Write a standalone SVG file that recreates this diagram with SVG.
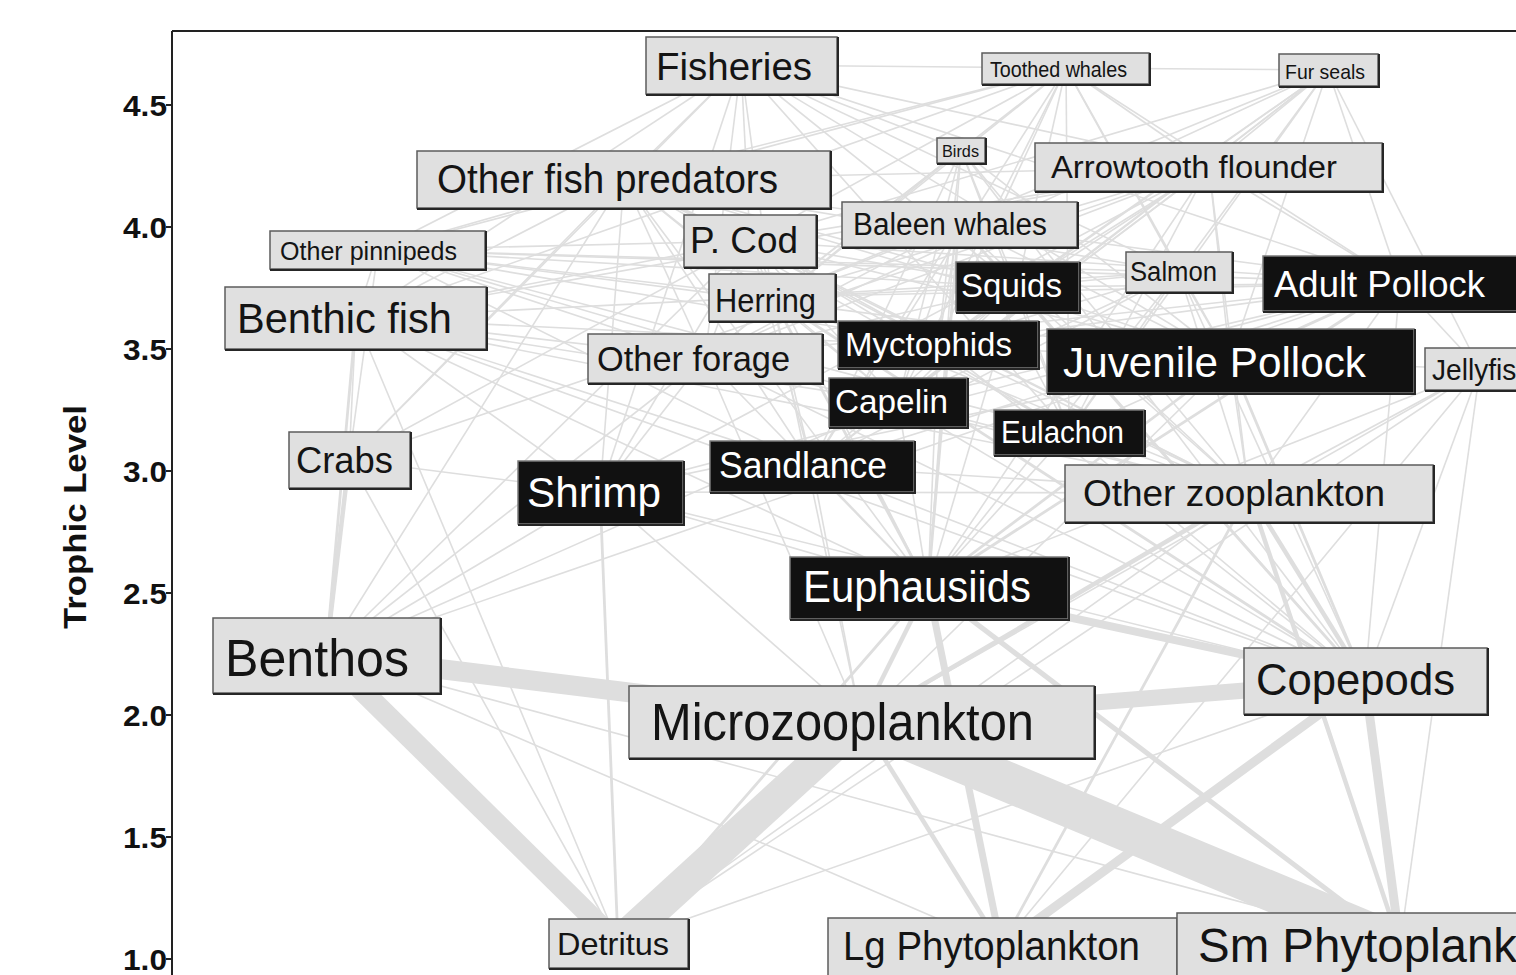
<svg xmlns="http://www.w3.org/2000/svg" width="1516" height="975" viewBox="0 0 1516 975">
<style>
.bg{fill:#ffffff}
#connectors line{stroke:#dedede;stroke-linecap:butt}
.t{stroke-width:1.6}
.m{stroke-width:2.8}
.k{stroke-width:4.5}
.lb rect{fill:#e0e0e0;stroke:#5c5c5c;stroke-width:1.5}
.db rect{fill:#111111;stroke:#7a7a7a;stroke-width:1.5}
.bev{fill:none;stroke:#262626;stroke-width:2}
.lb text{fill:#141414}
.db text{fill:#ffffff}
text{font-family:"Liberation Sans",Arial,Helvetica,sans-serif}
.ax{fill:none;stroke:#222;stroke-width:2}
.tick{font-weight:bold;font-size:30px;fill:#111;text-anchor:end}
</style>
<rect class="bg" x="0" y="0" width="1516" height="975"/>
<g id="connectors">
<g class="t">
<line x1="741" y1="65" x2="624" y2="180"/><line x1="741" y1="65" x2="750" y2="241"/><line x1="741" y1="65" x2="1209" y2="167"/><line x1="741" y1="65" x2="1400" y2="283"/><line x1="741" y1="65" x2="772" y2="297"/><line x1="741" y1="65" x2="1179" y2="272"/><line x1="741" y1="65" x2="356" y2="318"/><line x1="741" y1="65" x2="349" y2="460"/><line x1="741" y1="65" x2="600" y2="492"/><line x1="741" y1="65" x2="705" y2="358"/><line x1="741" y1="65" x2="1017" y2="287"/><line x1="741" y1="65" x2="1066" y2="68"/><line x1="741" y1="65" x2="378" y2="250"/><line x1="741" y1="65" x2="1230" y2="360"/><line x1="741" y1="65" x2="1069" y2="432"/>
<line x1="1066" y1="68" x2="1328" y2="70"/><line x1="1066" y1="68" x2="1017" y2="287"/><line x1="1066" y1="68" x2="1179" y2="272"/><line x1="1066" y1="68" x2="1400" y2="283"/><line x1="1066" y1="68" x2="1230" y2="360"/><line x1="1066" y1="68" x2="624" y2="180"/><line x1="1066" y1="68" x2="1209" y2="167"/><line x1="1066" y1="68" x2="750" y2="241"/><line x1="1066" y1="68" x2="772" y2="297"/><line x1="1066" y1="68" x2="938" y2="344"/><line x1="1066" y1="68" x2="378" y2="250"/><line x1="1066" y1="68" x2="356" y2="318"/><line x1="1066" y1="68" x2="1069" y2="432"/><line x1="1066" y1="68" x2="898" y2="402"/><line x1="1066" y1="68" x2="705" y2="358"/><line x1="1066" y1="68" x2="812" y2="466"/>
<line x1="1328" y1="70" x2="1400" y2="283"/><line x1="1328" y1="70" x2="1230" y2="360"/><line x1="1328" y1="70" x2="772" y2="297"/><line x1="1328" y1="70" x2="1017" y2="287"/><line x1="1328" y1="70" x2="1179" y2="272"/><line x1="1328" y1="70" x2="898" y2="402"/><line x1="1328" y1="70" x2="1069" y2="432"/><line x1="1328" y1="70" x2="938" y2="344"/><line x1="1328" y1="70" x2="812" y2="466"/><line x1="1328" y1="70" x2="705" y2="358"/><line x1="1328" y1="70" x2="1209" y2="167"/><line x1="1328" y1="70" x2="750" y2="241"/><line x1="1328" y1="70" x2="1480" y2="369"/>
<line x1="961" y1="150" x2="938" y2="344"/><line x1="961" y1="150" x2="898" y2="402"/><line x1="961" y1="150" x2="812" y2="466"/><line x1="961" y1="150" x2="1069" y2="432"/><line x1="961" y1="150" x2="1230" y2="360"/><line x1="961" y1="150" x2="1017" y2="287"/><line x1="961" y1="150" x2="928" y2="587"/><line x1="961" y1="150" x2="705" y2="358"/><line x1="961" y1="150" x2="772" y2="297"/><line x1="961" y1="150" x2="1249" y2="493"/><line x1="961" y1="150" x2="1365" y2="681"/><line x1="961" y1="150" x2="741" y2="65"/>
<line x1="959" y1="224" x2="898" y2="402"/><line x1="959" y1="224" x2="772" y2="297"/><line x1="959" y1="224" x2="812" y2="466"/><line x1="959" y1="224" x2="1230" y2="360"/><line x1="959" y1="224" x2="938" y2="344"/><line x1="959" y1="224" x2="705" y2="358"/><line x1="959" y1="224" x2="1249" y2="493"/><line x1="959" y1="224" x2="1069" y2="432"/>
<line x1="624" y1="180" x2="772" y2="297"/><line x1="624" y1="180" x2="705" y2="358"/><line x1="624" y1="180" x2="812" y2="466"/><line x1="624" y1="180" x2="898" y2="402"/><line x1="624" y1="180" x2="1017" y2="287"/><line x1="624" y1="180" x2="1230" y2="360"/><line x1="624" y1="180" x2="1400" y2="283"/><line x1="624" y1="180" x2="349" y2="460"/><line x1="624" y1="180" x2="600" y2="492"/><line x1="624" y1="180" x2="356" y2="318"/><line x1="624" y1="180" x2="928" y2="587"/><line x1="624" y1="180" x2="326" y2="655"/><line x1="624" y1="180" x2="938" y2="344"/><line x1="624" y1="180" x2="750" y2="241"/><line x1="624" y1="180" x2="1069" y2="432"/><line x1="624" y1="180" x2="1209" y2="167"/><line x1="624" y1="180" x2="1179" y2="272"/><line x1="624" y1="180" x2="1249" y2="493"/>
<line x1="1209" y1="167" x2="1230" y2="360"/><line x1="1209" y1="167" x2="1400" y2="283"/><line x1="1209" y1="167" x2="772" y2="297"/><line x1="1209" y1="167" x2="898" y2="402"/><line x1="1209" y1="167" x2="1069" y2="432"/><line x1="1209" y1="167" x2="1017" y2="287"/><line x1="1209" y1="167" x2="600" y2="492"/><line x1="1209" y1="167" x2="928" y2="587"/><line x1="1209" y1="167" x2="938" y2="344"/><line x1="1209" y1="167" x2="705" y2="358"/><line x1="1209" y1="167" x2="812" y2="466"/><line x1="1209" y1="167" x2="356" y2="318"/><line x1="1209" y1="167" x2="750" y2="241"/><line x1="1209" y1="167" x2="1249" y2="493"/><line x1="1209" y1="167" x2="349" y2="460"/>
<line x1="750" y1="241" x2="349" y2="460"/><line x1="750" y1="241" x2="600" y2="492"/><line x1="750" y1="241" x2="326" y2="655"/><line x1="750" y1="241" x2="1230" y2="360"/><line x1="750" y1="241" x2="1400" y2="283"/><line x1="750" y1="241" x2="772" y2="297"/><line x1="750" y1="241" x2="898" y2="402"/><line x1="750" y1="241" x2="812" y2="466"/><line x1="750" y1="241" x2="928" y2="587"/><line x1="750" y1="241" x2="356" y2="318"/><line x1="750" y1="241" x2="705" y2="358"/><line x1="750" y1="241" x2="1069" y2="432"/><line x1="750" y1="241" x2="1017" y2="287"/><line x1="750" y1="241" x2="1249" y2="493"/><line x1="750" y1="241" x2="938" y2="344"/>
<line x1="378" y1="250" x2="356" y2="318"/><line x1="378" y1="250" x2="750" y2="241"/><line x1="378" y1="250" x2="1017" y2="287"/><line x1="378" y1="250" x2="772" y2="297"/><line x1="378" y1="250" x2="705" y2="358"/><line x1="378" y1="250" x2="1230" y2="360"/><line x1="378" y1="250" x2="1400" y2="283"/><line x1="378" y1="250" x2="349" y2="460"/><line x1="378" y1="250" x2="1179" y2="272"/><line x1="378" y1="250" x2="624" y2="180"/><line x1="378" y1="250" x2="812" y2="466"/><line x1="378" y1="250" x2="898" y2="402"/><line x1="378" y1="250" x2="1069" y2="432"/><line x1="378" y1="250" x2="938" y2="344"/>
<line x1="356" y1="318" x2="349" y2="460"/><line x1="356" y1="318" x2="600" y2="492"/><line x1="356" y1="318" x2="1249" y2="493"/><line x1="356" y1="318" x2="928" y2="587"/><line x1="356" y1="318" x2="705" y2="358"/><line x1="356" y1="318" x2="812" y2="466"/><line x1="356" y1="318" x2="1365" y2="681"/><line x1="356" y1="318" x2="898" y2="402"/><line x1="356" y1="318" x2="1230" y2="360"/><line x1="356" y1="318" x2="772" y2="297"/><line x1="356" y1="318" x2="618" y2="943"/>
<line x1="772" y1="297" x2="1249" y2="493"/><line x1="772" y1="297" x2="812" y2="466"/><line x1="772" y1="297" x2="861" y2="721"/><line x1="772" y1="297" x2="898" y2="402"/>
<line x1="1017" y1="287" x2="938" y2="344"/><line x1="1017" y1="287" x2="928" y2="587"/><line x1="1017" y1="287" x2="1365" y2="681"/><line x1="1017" y1="287" x2="1249" y2="493"/><line x1="1017" y1="287" x2="1230" y2="360"/><line x1="1017" y1="287" x2="898" y2="402"/><line x1="1017" y1="287" x2="812" y2="466"/><line x1="1017" y1="287" x2="1069" y2="432"/><line x1="1017" y1="287" x2="772" y2="297"/><line x1="1017" y1="287" x2="705" y2="358"/>
<line x1="1179" y1="272" x2="1017" y2="287"/><line x1="1179" y1="272" x2="928" y2="587"/><line x1="1179" y1="272" x2="898" y2="402"/><line x1="1179" y1="272" x2="1249" y2="493"/><line x1="1179" y1="272" x2="1365" y2="681"/><line x1="1179" y1="272" x2="938" y2="344"/><line x1="1179" y1="272" x2="812" y2="466"/><line x1="1179" y1="272" x2="772" y2="297"/><line x1="1179" y1="272" x2="1069" y2="432"/><line x1="1179" y1="272" x2="1230" y2="360"/>
<line x1="1400" y1="283" x2="1365" y2="681"/><line x1="1400" y1="283" x2="1249" y2="493"/><line x1="1400" y1="283" x2="898" y2="402"/><line x1="1400" y1="283" x2="600" y2="492"/><line x1="1400" y1="283" x2="938" y2="344"/><line x1="1400" y1="283" x2="1017" y2="287"/><line x1="1400" y1="283" x2="812" y2="466"/><line x1="1400" y1="283" x2="1069" y2="432"/><line x1="1400" y1="283" x2="772" y2="297"/><line x1="1400" y1="283" x2="705" y2="358"/><line x1="1400" y1="283" x2="1480" y2="369"/><line x1="1400" y1="283" x2="326" y2="655"/>
<line x1="705" y1="358" x2="928" y2="587"/><line x1="705" y1="358" x2="1365" y2="681"/><line x1="705" y1="358" x2="1249" y2="493"/><line x1="705" y1="358" x2="861" y2="721"/><line x1="705" y1="358" x2="600" y2="492"/><line x1="705" y1="358" x2="326" y2="655"/>
<line x1="938" y1="344" x2="928" y2="587"/><line x1="938" y1="344" x2="1365" y2="681"/><line x1="938" y1="344" x2="1249" y2="493"/>
<line x1="1230" y1="360" x2="1249" y2="493"/><line x1="1230" y1="360" x2="861" y2="721"/><line x1="1230" y1="360" x2="600" y2="492"/>
<line x1="1480" y1="369" x2="1365" y2="681"/><line x1="1480" y1="369" x2="1249" y2="493"/><line x1="1480" y1="369" x2="861" y2="721"/><line x1="1480" y1="369" x2="928" y2="587"/><line x1="1480" y1="369" x2="1230" y2="360"/><line x1="1480" y1="369" x2="1400" y2="945"/><line x1="1480" y1="369" x2="1001" y2="946"/><line x1="1480" y1="369" x2="618" y2="943"/>
<line x1="898" y1="402" x2="928" y2="587"/><line x1="898" y1="402" x2="1365" y2="681"/><line x1="898" y1="402" x2="1249" y2="493"/><line x1="898" y1="402" x2="326" y2="655"/>
<line x1="1069" y1="432" x2="928" y2="587"/><line x1="1069" y1="432" x2="1365" y2="681"/><line x1="1069" y1="432" x2="1249" y2="493"/>
<line x1="349" y1="460" x2="618" y2="943"/><line x1="349" y1="460" x2="600" y2="492"/>
<line x1="600" y1="492" x2="326" y2="655"/><line x1="600" y1="492" x2="861" y2="721"/><line x1="600" y1="492" x2="1365" y2="681"/><line x1="600" y1="492" x2="1249" y2="493"/><line x1="600" y1="492" x2="928" y2="587"/>
<line x1="812" y1="466" x2="928" y2="587"/><line x1="812" y1="466" x2="1365" y2="681"/><line x1="812" y1="466" x2="1249" y2="493"/><line x1="812" y1="466" x2="861" y2="721"/>
<line x1="1249" y1="493" x2="618" y2="943"/><line x1="1365" y1="681" x2="618" y2="943"/>
<line x1="326" y1="655" x2="1001" y2="946"/><line x1="326" y1="655" x2="1400" y2="945"/>
</g>
<g class="m">
<line x1="959" y1="224" x2="928" y2="587"/><line x1="959" y1="224" x2="1365" y2="681"/><line x1="772" y1="297" x2="928" y2="587"/><line x1="772" y1="297" x2="1365" y2="681"/><line x1="1400" y1="283" x2="1230" y2="360"/><line x1="1400" y1="283" x2="928" y2="587"/><line x1="1230" y1="360" x2="928" y2="587"/><line x1="1230" y1="360" x2="1365" y2="681"/><line x1="356" y1="318" x2="326" y2="655"/><line x1="600" y1="492" x2="618" y2="943"/><line x1="1249" y1="493" x2="1001" y2="946"/><line x1="928" y1="587" x2="618" y2="943"/>
</g>
<g class="k">
<line x1="349" y1="460" x2="326" y2="655"/><line x1="1249" y1="493" x2="1365" y2="681"/><line x1="1249" y1="493" x2="861" y2="721"/><line x1="1249" y1="493" x2="1400" y2="945"/><line x1="928" y1="587" x2="861" y2="721"/><line x1="861" y1="721" x2="1001" y2="946"/>
</g>
<line x1="928" y1="587" x2="1400" y2="945" stroke-width="5"/>
<line x1="928" y1="587" x2="1001" y2="946" stroke-width="7"/>
<line x1="928" y1="587" x2="1365" y2="681" stroke-width="8"/>
<line x1="1365" y1="681" x2="1400" y2="945" stroke-width="9"/>
<line x1="1365" y1="681" x2="1001" y2="946" stroke-width="9"/>
<line x1="1365" y1="681" x2="861" y2="721" stroke-width="16"/>
<line x1="326" y1="655" x2="861" y2="721" stroke-width="20"/>
<line x1="326" y1="655" x2="618" y2="943" stroke-width="21"/>
<line x1="861" y1="721" x2="618" y2="943" stroke-width="32"/>
<line x1="861" y1="721" x2="1400" y2="945" stroke-width="40"/>
</g>
<g id="axis">
<path class="ax" d="M172,31 H1516 M172,31 V975 M166,105 H172 M166,227 H172 M166,349 H172 M166,471 H172 M166,593 H172 M166,715 H172 M166,837 H172 M166,959 H172"/>
<text class="tick" x="167" y="116" textLength="44" lengthAdjust="spacingAndGlyphs">4.5</text>
<text class="tick" x="167" y="238" textLength="44" lengthAdjust="spacingAndGlyphs">4.0</text>
<text class="tick" x="167" y="360" textLength="44" lengthAdjust="spacingAndGlyphs">3.5</text>
<text class="tick" x="167" y="482" textLength="44" lengthAdjust="spacingAndGlyphs">3.0</text>
<text class="tick" x="167" y="604" textLength="44" lengthAdjust="spacingAndGlyphs">2.5</text>
<text class="tick" x="167" y="726" textLength="44" lengthAdjust="spacingAndGlyphs">2.0</text>
<text class="tick" x="167" y="848" textLength="44" lengthAdjust="spacingAndGlyphs">1.5</text>
<text class="tick" x="167" y="970" textLength="44" lengthAdjust="spacingAndGlyphs">1.0</text>
<text x="86" y="517" transform="rotate(-90 86 517)" text-anchor="middle" font-weight="bold" font-size="32" fill="#111" textLength="224" lengthAdjust="spacingAndGlyphs">Trophic Level</text>
</g>
<g id="n-fisheries" class="lb"><rect x="646" y="37" width="191" height="57"/><path class="bev" d="M646,95 H838 V37"/><text x="656" y="80" font-size="39" textLength="156" lengthAdjust="spacingAndGlyphs">Fisheries</text></g>
<g id="n-toothed-whales" class="lb"><rect x="982" y="53" width="167" height="31"/><path class="bev" d="M982,85 H1150 V53"/><text x="990" y="77" font-size="22" textLength="137" lengthAdjust="spacingAndGlyphs">Toothed whales</text></g>
<g id="n-fur-seals" class="lb"><rect x="1279" y="54" width="99" height="32"/><path class="bev" d="M1279,87 H1379 V54"/><text x="1285" y="79" font-size="21" textLength="80" lengthAdjust="spacingAndGlyphs">Fur seals</text></g>
<g id="n-birds" class="lb"><rect x="937" y="138" width="48" height="25"/><path class="bev" d="M937,164 H986 V138"/><text x="942" y="157" font-size="17" textLength="37" lengthAdjust="spacingAndGlyphs">Birds</text></g>
<g id="n-other-fish-predators" class="lb"><rect x="417" y="151" width="413" height="57"/><path class="bev" d="M417,209 H831 V151"/><text x="437" y="193" font-size="41" textLength="341" lengthAdjust="spacingAndGlyphs">Other fish predators</text></g>
<g id="n-arrowtooth-flounder" class="lb"><rect x="1035" y="143" width="347" height="48"/><path class="bev" d="M1035,192 H1383 V143"/><text x="1051" y="178" font-size="31" textLength="286" lengthAdjust="spacingAndGlyphs">Arrowtooth flounder</text></g>
<g id="n-baleen-whales" class="lb"><rect x="842" y="202" width="235" height="45"/><path class="bev" d="M842,248 H1078 V202"/><text x="853" y="235" font-size="31" textLength="194" lengthAdjust="spacingAndGlyphs">Baleen whales</text></g>
<g id="n-p-cod" class="lb"><rect x="684" y="215" width="132" height="52"/><path class="bev" d="M684,268 H817 V215"/><text x="690" y="253" font-size="36" textLength="108" lengthAdjust="spacingAndGlyphs">P. Cod</text></g>
<g id="n-other-pinnipeds" class="lb"><rect x="270" y="231" width="215" height="38"/><path class="bev" d="M270,270 H486 V231"/><text x="280" y="260" font-size="26" textLength="177" lengthAdjust="spacingAndGlyphs">Other pinnipeds</text></g>
<g id="n-benthic-fish" class="lb"><rect x="225" y="287" width="261" height="62"/><path class="bev" d="M225,350 H487 V287"/><text x="237" y="333" font-size="43" textLength="215" lengthAdjust="spacingAndGlyphs">Benthic fish</text></g>
<g id="n-herring" class="lb"><rect x="709" y="274" width="126" height="47"/><path class="bev" d="M709,322 H836 V274"/><text x="715" y="312" font-size="34" textLength="101" lengthAdjust="spacingAndGlyphs">Herring</text></g>
<g id="n-squids" class="db"><rect x="956" y="262" width="123" height="50"/><path class="bev" d="M956,313 H1080 V262"/><text x="961" y="297" font-size="33" textLength="101" lengthAdjust="spacingAndGlyphs">Squids</text></g>
<g id="n-salmon" class="lb"><rect x="1126" y="252" width="106" height="40"/><path class="bev" d="M1126,293 H1233 V252"/><text x="1130" y="281" font-size="27" textLength="87" lengthAdjust="spacingAndGlyphs">Salmon</text></g>
<g id="n-adult-pollock" class="db"><rect x="1263" y="256" width="280" height="55"/><path class="bev" d="M1263,312 H1544"/><text x="1274" y="297" font-size="36" textLength="211" lengthAdjust="spacingAndGlyphs">Adult Pollock</text></g>
<g id="n-other-forage" class="lb"><rect x="588" y="334" width="234" height="49"/><path class="bev" d="M588,384 H823 V334"/><text x="597" y="371" font-size="35" textLength="193" lengthAdjust="spacingAndGlyphs">Other forage</text></g>
<g id="n-myctophids" class="db"><rect x="838" y="321" width="200" height="47"/><path class="bev" d="M838,369 H1039 V321"/><text x="845" y="356" font-size="33" textLength="167" lengthAdjust="spacingAndGlyphs">Myctophids</text></g>
<g id="n-juvenile-pollock" class="db"><rect x="1047" y="329" width="367" height="64"/><path class="bev" d="M1047,394 H1415 V329"/><text x="1063" y="377" font-size="43" textLength="303" lengthAdjust="spacingAndGlyphs">Juvenile Pollock</text></g>
<g id="n-jellyfish" class="lb"><rect x="1425" y="348" width="110" height="42"/><path class="bev" d="M1425,391 H1536"/><text x="1432" y="380" font-size="29" textLength="100" lengthAdjust="spacingAndGlyphs">Jellyfish</text></g>
<g id="n-capelin" class="db"><rect x="829" y="378" width="138" height="49"/><path class="bev" d="M829,428 H968 V378"/><text x="835" y="413" font-size="33" textLength="113" lengthAdjust="spacingAndGlyphs">Capelin</text></g>
<g id="n-eulachon" class="db"><rect x="994" y="410" width="150" height="45"/><path class="bev" d="M994,456 H1145 V410"/><text x="1001" y="443" font-size="31" textLength="123" lengthAdjust="spacingAndGlyphs">Eulachon</text></g>
<g id="n-crabs" class="lb"><rect x="289" y="432" width="121" height="56"/><path class="bev" d="M289,489 H411 V432"/><text x="296" y="473" font-size="36" textLength="97" lengthAdjust="spacingAndGlyphs">Crabs</text></g>
<g id="n-shrimp" class="db"><rect x="518" y="461" width="165" height="63"/><path class="bev" d="M518,525 H684 V461"/><text x="527" y="507" font-size="42" textLength="134" lengthAdjust="spacingAndGlyphs">Shrimp</text></g>
<g id="n-sandlance" class="db"><rect x="710" y="441" width="204" height="51"/><path class="bev" d="M710,493 H915 V441"/><text x="719" y="478" font-size="36" textLength="168" lengthAdjust="spacingAndGlyphs">Sandlance</text></g>
<g id="n-other-zooplankton" class="lb"><rect x="1065" y="465" width="368" height="57"/><path class="bev" d="M1065,523 H1434 V465"/><text x="1083" y="506" font-size="36" textLength="302" lengthAdjust="spacingAndGlyphs">Other zooplankton</text></g>
<g id="n-euphausiids" class="db"><rect x="790" y="557" width="278" height="62"/><path class="bev" d="M790,620 H1069 V557"/><text x="803" y="602" font-size="44" textLength="228" lengthAdjust="spacingAndGlyphs">Euphausiids</text></g>
<g id="n-benthos" class="lb"><rect x="213" y="618" width="227" height="75"/><path class="bev" d="M213,694 H441 V618"/><text x="225" y="676" font-size="52" textLength="184" lengthAdjust="spacingAndGlyphs">Benthos</text></g>
<g id="n-microzooplankton" class="lb"><rect x="629" y="686" width="465" height="72"/><path class="bev" d="M629,759 H1095 V686"/><text x="651" y="740" font-size="51" textLength="383" lengthAdjust="spacingAndGlyphs">Microzooplankton</text></g>
<g id="n-copepods" class="lb"><rect x="1244" y="648" width="243" height="66"/><path class="bev" d="M1244,715 H1488 V648"/><text x="1256" y="695" font-size="44" textLength="199" lengthAdjust="spacingAndGlyphs">Copepods</text></g>
<g id="n-detritus" class="lb"><rect x="549" y="919" width="139" height="49"/><path class="bev" d="M549,969 H689 V919"/><text x="557" y="955" font-size="32" textLength="112" lengthAdjust="spacingAndGlyphs">Detritus</text></g>
<g id="n-lg-phytoplankton" class="lb"><rect x="828" y="918" width="349" height="62"/><text x="843" y="960" font-size="40" textLength="297" lengthAdjust="spacingAndGlyphs">Lg Phytoplankton</text></g>
<g id="n-sm-phytoplankton" class="lb"><rect x="1177" y="913" width="460" height="70"/><text x="1198" y="962" font-size="48" textLength="385" lengthAdjust="spacingAndGlyphs">Sm Phytoplankton</text></g>
</svg>
